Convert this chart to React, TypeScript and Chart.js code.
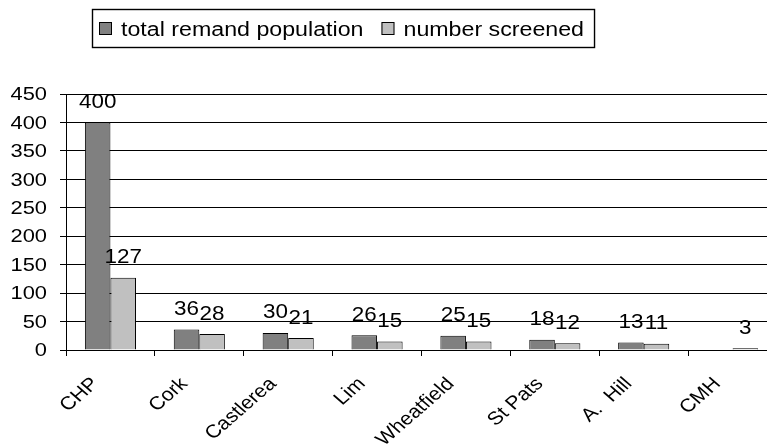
import React, { useEffect, useRef } from 'react';
import { Chart, registerables } from 'chart.js';

Chart.register(...registerables);

const categories: string[] = ['CHP', 'Cork', 'Castlerea', 'Lim', 'Wheatfield', 'St Pats', 'A.  Hill', 'CMH'];
const seriesNames: string[] = ['total remand population', 'number screened'];
const totalRemand: (number | null)[] = [400, 36, 30, 26, 25, 18, 13, null];
const numberScreened: (number | null)[] = [127, 28, 21, 15, 15, 12, 11, 3];
const seriesColors: string[] = ['#808080', '#c0c0c0'];

const FONT = '"Liberation Sans", Arial, sans-serif';
const STRETCH = 1.15;

function drawText(
  ctx: CanvasRenderingContext2D,
  text: string,
  x: number,
  y: number,
  size: number,
  align: CanvasTextAlign,
  baseline: CanvasTextBaseline,
  rot = 0,
  s = STRETCH
) {
  ctx.save();
  ctx.translate(x, y);
  ctx.scale(s, 1);
  if (rot) ctx.rotate(rot);
  ctx.font = `${size}px ${FONT}`;
  ctx.textAlign = align;
  ctx.textBaseline = baseline;
  ctx.fillStyle = '#000';
  ctx.fillText(text, 0, 0);
  ctx.restore();
}

const textPlugin = {
  id: 'refText',
  afterDraw(chart: any) {
    const ctx: CanvasRenderingContext2D = chart.ctx;
    const ys = chart.scales.y;
    const xs = chart.scales.x;
    ctx.save();
    // y tick labels
    ys.ticks.forEach((t: any, i: number) => {
      const py = ys.getPixelForTick(i);
      drawText(ctx, String(t.value), ys.right - 19, py + 1, 19, 'right', 'middle');
    });
    // x category labels
    chart.data.labels.forEach((c: string, i: number) => {
      const px = xs.getPixelForValue(i);
      drawText(ctx, c, px - 15, xs.top + 31, 18.5, 'right', 'middle', -Math.PI / 4);
    });
    // data labels
    chart.data.datasets.forEach((ds: any, di: number) => {
      const meta = chart.getDatasetMeta(di);
      meta.data.forEach((bar: any, i: number) => {
        const v = ds.data[i];
        if (v == null) return;
        drawText(ctx, String(v), bar.x, bar.y - 14.5, 19.5, 'center', 'alphabetic');
      });
    });
    // legend
    const boxLeft = 92;
    const boxTop = 9;
    const boxH = 38;
    const legSize = 20;
    const legS = 1.16;
    ctx.font = `${legSize}px ${FONT}`;
    let x = boxLeft + 7;
    const sqTop = 22;
    chart.data.datasets.forEach((ds: any, di: number) => {
      ctx.fillStyle = ds.backgroundColor;
      ctx.fillRect(x, sqTop, 13, 13);
      ctx.strokeStyle = '#000';
      ctx.lineWidth = 1;
      ctx.strokeRect(x + 0.5, sqTop + 0.5, 12, 12);
      x += 22;
      drawText(ctx, ds.label, x, 36, legSize, 'left', 'alphabetic', 0, legS);
      ctx.font = `${legSize}px ${FONT}`;
      x += ctx.measureText(ds.label).width * legS;
      if (di < chart.data.datasets.length - 1) x += 18;
    });
    const boxW = x + 10 - boxLeft;
    ctx.strokeStyle = '#000';
    ctx.lineWidth = 1.4;
    ctx.strokeRect(boxLeft + 0.5, boxTop + 0.5, boxW, boxH);
    ctx.restore();
  },
};

export default function App() {
  const ref = useRef<HTMLCanvasElement | null>(null);
  useEffect(() => {
    if (!ref.current) return;
    const chart = new Chart(ref.current, {
      type: 'bar',
      data: {
        labels: categories,
        datasets: [
          {
            label: seriesNames[0],
            data: totalRemand,
            backgroundColor: seriesColors[0],
            borderColor: '#000',
            borderWidth: 1,
          },
          {
            label: seriesNames[1],
            data: numberScreened,
            backgroundColor: seriesColors[1],
            borderColor: '#000',
            borderWidth: 1,
          },
        ],
      },
      options: {
        responsive: false,
        animation: false,
        layout: { padding: { top: 94, left: 0, right: 0, bottom: 0 } },
        plugins: { legend: { display: false }, tooltip: { enabled: false } },
        datasets: { bar: { categoryPercentage: 0.575, barPercentage: 1 } },
        scales: {
          x: {
            offset: true,
            grid: { display: true, drawOnChartArea: false, drawTicks: true, tickLength: 6, color: '#000', offset: true },
            border: { display: true, color: '#000' },
            ticks: { display: false },
            afterFit: (s: any) => {
              s.height = 97;
            },
          },
          y: {
            min: 0,
            max: 450,
            ticks: { stepSize: 50, display: false },
            grid: { color: '#000', tickLength: 6, drawTicks: true },
            border: { display: true, color: '#000' },
            afterFit: (s: any) => {
              s.width = 66;
            },
          },
        },
      },
      plugins: [textPlugin],
    });
    return () => chart.destroy();
  }, []);
  return (
    <div
      style={{
        position: 'fixed',
        left: 0,
        top: 0,
        width: 767,
        height: 447,
        overflow: 'hidden',
        background: '#fff',
      }}
    >
      <canvas ref={ref} width={777} height={447} style={{ display: 'block' }} />
    </div>
  );
}
